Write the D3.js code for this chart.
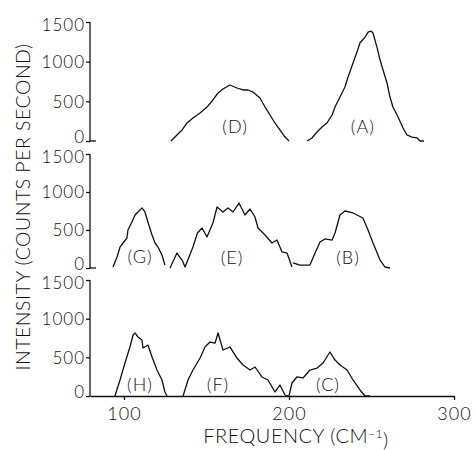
<!DOCTYPE html>
<html>
<head>
<meta charset="utf-8">
<script src="https://cdn.jsdelivr.net/npm/d3@7"></script>
<style>
  body { margin: 0; background: #fff; }
  svg text { font-family: Lato, "Liberation Sans", Arial, sans-serif; font-weight: 300; fill: #111; }
</style>
</head>
<body>
<svg id="raman"></svg>
<script>
// spectra: [frequency cm-1, counts per second]
const peakD = [[128.5,0],[132.1,76],[135.2,139],[138.2,227],[141.8,290],[146.1,353],[150.3,428],[153.9,517],[157.0,605],[160.0,655],[164.2,706],[168.5,668],[172.1,643],[175.2,643],[178.2,617],[182.4,542],[185.5,428],[188.5,328],[191.5,227],[194.5,139],[197.6,50],[200.0,0]];
const peakA = [[210.9,0],[213.9,38],[217.0,113],[220.0,176],[223.0,227],[226.1,328],[227.9,428],[230.9,554],[233.9,680],[235.8,806],[238.8,983],[241.2,1121],[243.0,1235],[246.1,1310],[247.9,1373],[249.7,1386],[250.9,1361],[253.3,1184],[255.2,1021],[257.0,895],[259.4,731],[261.2,554],[263.0,428],[266.1,302],[269.1,164],[271.5,76],[274.5,50],[277.6,38],[279.4,0],[281.8,0]];
const peakG = [[93.3,13],[95.8,145],[97.6,276],[99.4,329],[101.8,395],[102.4,500],[104.8,605],[106.7,697],[108.5,737],[110.9,790],[112.7,737],[114.5,605],[117.0,434],[118.8,329],[120.6,276],[123.0,171],[124.8,39]];
const peakE = [[127.9,0],[132.1,197],[135.2,105],[137.0,13],[141.8,276],[144.5,461],[147.3,526],[150.3,408],[153.9,592],[156.4,803],[160.0,737],[163.0,790],[166.1,737],[169.7,855],[173.3,697],[176.4,776],[179.4,671],[181.2,526],[185.5,434],[189.7,329],[192.7,368],[195.8,211],[198.8,197],[201.8,13]];
const peakB = [[202.4,66],[206.7,39],[212.7,39],[215.8,197],[218.8,342],[221.8,382],[226.1,368],[227.9,461],[230.9,697],[233.9,750],[238.8,724],[244.8,658],[247.9,500],[250.9,329],[255.2,105],[258.2,13],[261.2,0]];
const peakH = [[94.5,0],[97.6,207],[100.6,427],[103.6,634],[105.5,789],[106.7,815],[108.5,763],[110.9,724],[111.5,621],[114.5,659],[117.0,504],[120.0,336],[123.0,207],[124.8,52],[126.1,0]];
const peakF = [[135.8,0],[138.8,207],[141.8,336],[146.1,491],[149.1,634],[152.1,698],[155.2,685],[157.0,815],[160.0,595],[164.2,634],[168.5,491],[172.1,401],[176.4,336],[179.4,375],[183.6,246],[187.3,207],[191.5,52],[194.5,142],[197.6,13],[199.4,0]];
const peakC = [[200.0,0],[201.8,168],[204.8,246],[208.5,233],[212.7,336],[217.0,362],[220.6,427],[224.8,569],[227.9,465],[230.9,401],[235.2,336],[238.8,207],[243.0,78],[246.1,0],[249.1,0]];

const yTicks = [0, 500, 1000, 1500];
const xTicks = [100, 200, 300];

// label text with its [frequency, counts] anchor
const labelsTop = [["(D)", 167.3, 176], ["(A)", 244.8, 176]];
const labelsMid = [["(G)", 109.7, 145], ["(E)", 165.5, 132], ["(B)", 235.8, 132]];
const labelsBot = [["(H)", 109.7, 142], ["(F)", 157.0, 142], ["(C)", 223.6, 142]];

let svg = d3.select("#raman").attr("width", 476).attr("height", 450);

let xScale = d3.scaleLinear().domain([79.4, 300]).range([90, 454]);

let panels = [
  { top: 22, bottom: 141, curves: [peakD, peakA], labels: labelsTop, xAxis: false },
  { top: 154, bottom: 268, curves: [peakG, peakE, peakB], labels: labelsMid, xAxis: false },
  { top: 280, bottom: 396, curves: [peakH, peakF, peakC], labels: labelsBot, xAxis: true }
];

panels.forEach((p) => {
  let yScale = d3.scaleLinear().domain([0, 1500]).range([p.bottom, p.top]);
  let g = svg.append("g");

  let yAxis = g.append("g")
    .attr("transform", "translate(90,0)")
    .call(d3.axisLeft(yScale).tickValues(yTicks).tickFormat(d3.format("d")).tickSize(4).tickSizeOuter(0).tickPadding(1));
  yAxis.attr("font-family", null);
  yAxis.selectAll("text")
    .attr("font-size", "17px")
    .attr("letter-spacing", "1px")
    // 0 and 1500 labels of neighbouring panels nearly touch, keep them apart
    .attr("dy", (d) => (d === 0 ? "0.06em" : d === 1500 ? "0.5em" : "0.34em"));
  yAxis.selectAll("line, path").attr("stroke", "#111").attr("stroke-width", 1.3);
  yAxis.select(".domain").attr("d", "M0," + (p.bottom + 0.5) + "V" + p.top);

  if (p.xAxis) {
    let xAxis = g.append("g")
      .attr("transform", "translate(0," + p.bottom + ")")
      .call(d3.axisBottom(xScale).tickValues(xTicks).tickSize(4).tickSizeOuter(0).tickPadding(7));
    xAxis.attr("font-family", null);
    xAxis.selectAll("text").attr("font-size", "18px").attr("letter-spacing", "1px");
    xAxis.selectAll("line, path").attr("stroke", "#111").attr("stroke-width", 1.3);
  } else {
    g.append("line")
      .attr("x1", 90).attr("x2", 96)
      .attr("y1", p.bottom).attr("y2", p.bottom)
      .attr("stroke", "#111").attr("stroke-width", 1.3);
  }

  let line = d3.line()
    .x((d) => xScale(d[0]))
    .y((d) => yScale(d[1]));

  g.selectAll(".spectrum")
    .data(p.curves)
    .enter()
    .append("path")
    .attr("class", "spectrum")
    .attr("d", line)
    .attr("fill", "none")
    .attr("stroke", "#111")
    .attr("stroke-width", 1.3)
    .attr("stroke-linejoin", "round");

  g.selectAll(".peak-label")
    .data(p.labels)
    .enter()
    .append("text")
    .attr("class", "peak-label")
    .attr("x", (d) => xScale(d[1]))
    .attr("y", (d) => yScale(d[2]))
    .attr("dy", "0.35em")
    .attr("text-anchor", "middle")
    .attr("font-size", "18px")
    .attr("letter-spacing", "1px")
    .text((d) => d[0]);
});

let xTitle = svg.append("text")
  .attr("x", 296)
  .attr("y", 443)
  .attr("text-anchor", "middle")
  .attr("font-size", "20px")
  .attr("letter-spacing", "0.5px")
  .text("FREQUENCY (CM");
xTitle.append("tspan").attr("dy", "-0.45em").attr("font-size", "12px").text("−1");
xTitle.append("tspan").attr("dy", "0.45em").text(")");

svg.append("text")
  .attr("transform", "translate(30,207) rotate(-90)")
  .attr("text-anchor", "middle")
  .attr("font-size", "19.5px")
  .attr("letter-spacing", "0.5px")
  .text("INTENSITY (COUNTS PER SECOND)");
</script>
</body>
</html>
